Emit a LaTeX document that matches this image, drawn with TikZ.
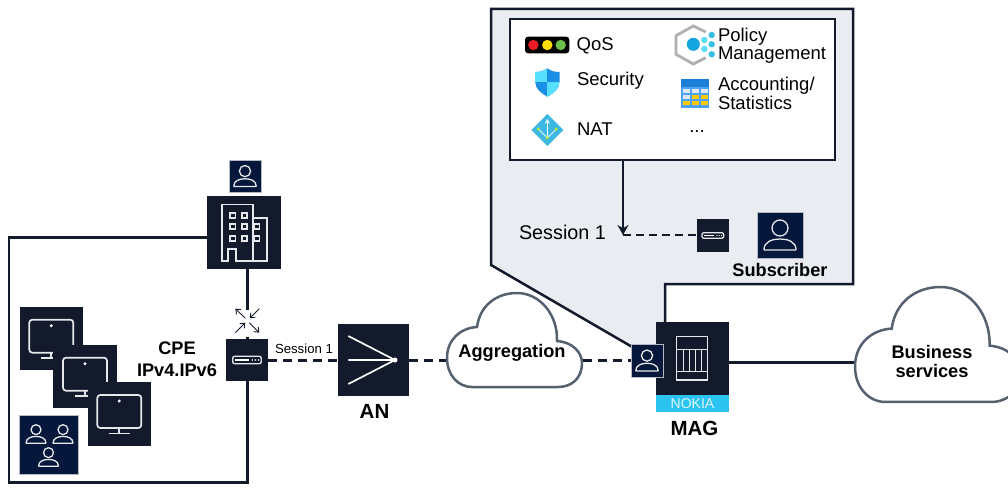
\documentclass[tikz,border=0pt]{standalone}
\usepackage{fontspec}
\setmainfont{Liberation Sans}
\usetikzlibrary{arrows.meta}
\definecolor{inkdark}{HTML}{131A2B}
\definecolor{navy}{HTML}{05173A}
\definecolor{panelfill}{HTML}{E9EDF2}
\definecolor{cloudline}{HTML}{56616F}
\definecolor{nokiacyan}{HTML}{2DC3F0}
\tikzset{
  x=1pt,y=-1pt,
  hx/.code={\definecolor{tmpc}{HTML}{#1}\pgfkeysalso{/tikz/color=tmpc}},
  darkbox/.style={fill=inkdark,draw=none,inner sep=0,outer sep=0,minimum width=#1,minimum height=#1},
  navybox/.style={fill=navy,draw=white!70!navy,line width=.5pt,inner sep=0,outer sep=0,minimum width=#1,minimum height=#1},
  wire/.style={draw=inkdark,line width=2.5pt},
  dashwire/.style={draw=inkdark,line width=3pt,dash pattern=on 9pt off 6pt},
  thindash/.style={draw=inkdark,line width=1.2pt,dash pattern=on 8pt off 5pt},
  icon/.style={draw=white!90!navy,line width=1.3pt},
  reg/.style={inner sep=0,outer sep=0,font=\fontsize{18.5}{18.5}\selectfont,align=left},
  bold/.style={inner sep=0,outer sep=0,font=\fontsize{18.2}{22}\selectfont\bfseries,align=center},
  boldbig/.style={inner sep=0,outer sep=0,font=\fontsize{20.5}{22}\selectfont\bfseries,align=center},
  personicon/.pic={
    \draw[icon] (0,-7) circle[radius=8];
    \draw[icon,rounded corners=0.5pt] (-16,15) .. controls (-16,7) and (-8,4) .. (0,4) .. controls (8,4) and (16,7) .. (16,15) -- cycle;
  },
  monitoricon/.pic={
    \draw[icon,line width=1.7pt,rounded corners=3pt] (-22,-19) rectangle (22,14);
    \draw[icon,line width=1.7pt] (0,14) -- (0,19) (-10.5,19.5) -- (10.5,19.5);
    \fill[white] (0,-13) circle[radius=1.6];
  },
  routericon/.pic={
    \draw[icon,rounded corners=2pt] (-14.3,-3.7) rectangle (14.3,3.7);
    \draw[white,line width=1.4pt] (-12,0) -- (2,0);
    \fill[white] (5.5,0) circle[radius=.8] (8.5,0) circle[radius=.8] (11.5,0) circle[radius=.8];
  },
  cloudpic/.pic={
    \draw[draw=cloudline,line width=2.5pt,fill=white]
      (30,34) .. controls (33,12) and (50,0) .. (70,0)
      .. controls (93,0) and (111,22) .. (110,48)
      .. controls (125,49) and (135,59) .. (135,70)
      .. controls (135,85) and (125,94) .. (111,94)
      -- (25,94)
      .. controls (11,94) and (0,82) .. (0,65)
      .. controls (0,47) and (13,35) .. (30,34) -- cycle;
  },
}
\begin{document}
\begin{tikzpicture}[x=1pt,y=-1pt]
\useasboundingbox (0,0) rectangle (1008,489);

% subscriber context panel
\draw[wire,fill=panelfill,line join=miter] (491,9) -- (853,9) -- (853,284) -- (665,284) -- (665,366) -- (491,265) -- cycle;
\node[fill=white,draw=inkdark,line width=2.5pt,inner sep=0,outer sep=0,minimum width=325pt,minimum height=141pt] (pol) at (672.5,89.5) {};

% QoS icon
\fill[black,rounded corners=3pt] (525,36.7) rectangle (569.3,53.3);
\fill[hx=ED1C24] (533.3,45) circle[radius=5.2];
\fill[hx=FFDD00] (547.3,45) circle[radius=5.2];
\fill[hx=6CC04A] (560.7,45) circle[radius=5.2];
\node[reg,anchor=west] (tqos) at (576.7,45.8) {QoS};

% Security icon
\begin{scope}
\path[clip] (547.3,68.3) .. controls (552,71.5) and (555,72) .. (559.5,72) -- (559.5,82) .. controls (559.5,89) and (553,93.5) .. (547.3,96.7) .. controls (541.6,93.5) and (535.2,89) .. (535.2,82) -- (535.2,72) .. controls (539.5,72) and (542.6,71.5) .. (547.3,68.3) -- cycle;
\fill[hx=1B8FE6] (530,65) rectangle (565,100);
\fill[hx=57DFFF] (530,65) rectangle (547.3,82.3);
\fill[hx=57DFFF] (547.3,82.3) rectangle (565,100);
\end{scope}
\node[reg,anchor=west] (tsec) at (577,80.8) {Security};

% NAT icon
\fill[hx=3CB8E2] (547.3,114) -- (563.3,130) -- (547.3,146) -- (531.3,130) -- cycle;
\draw[white,line width=1.1pt,-{Stealth[length=4.5pt,width=5pt]}] (547.3,138) -- (547.3,119);
\draw[white!75!nokiacyan,line width=1.1pt] (538.3,129) -- (547.3,138) -- (556.3,129);
\fill[hx=B5E61D] (538.3,129) circle[radius=1.6] (556.3,129) circle[radius=1.6] (547.3,138) circle[radius=1.6];
\node[reg,anchor=west] (tnat) at (577,129) {NAT};

% Policy icon
\draw[hx=B0B0B0,line width=2.8pt] (705.7,32) -- (693.3,26) -- (676,35.7) -- (676,54.3) -- (693.3,64) -- (705.7,57.7);
\fill[hx=12A5DF] (693.3,44.3) circle[radius=6.5];
\fill[hx=5CDDF8] (704.3,40) circle[radius=3.2] (704.3,49) circle[radius=3.2];
\fill[hx=36BFE2] (711.7,35) circle[radius=3.2] (711.7,44.3) circle[radius=3.2] (711.7,54.3) circle[radius=3.2];
\node[reg,anchor=west,font=\fontsize{18.5}{18.3}\selectfont] (tpol) at (718,45.8) {Policy\\Management};

% Accounting icon
\fill[hx=4FA3F2] (680.7,79) rectangle (709.3,108.3);
\fill[hx=1E7FD8] (680.7,79) rectangle (709.3,87.5);
\foreach \cx/\rw/\cc in {682.7/89/DCE9FB,691.7/89/DCE9FB,700.7/89/DCE9FB,682.7/95/DCE9FB,691.7/95/FFC800,700.7/95/FFC800,682.7/101/FFC800,691.7/101/FFC800,700.7/101/FFC800}{
  \fill[hx=\cc] (\cx,\rw) rectangle ++(7,4.5);
}
\node[reg,anchor=west,font=\fontsize{18.5}{19}\selectfont] (tacc) at (718,93) {Accounting/\\Statistics};
\node[reg,anchor=center] (tmore) at (697,132) {...};

% session inside panel
\coordinate (sj) at (623,235);
\coordinate (polout) at (623,160);
\node[darkbox=32.5pt] (rt2) at (712.8,235.5) {};
\pic[scale=.76] at (rt2) {routericon};
\draw[wire,-{Stealth[length=10pt,width=11pt]}] (polout) -- (sj);
\draw[thindash] (sj) -- (rt2.west |- sj);
\node[inner sep=0,outer sep=0,font=\fontsize{19.8}{20}\selectfont,anchor=west] (tses) at (519,232) {Session 1};
\node[navybox=46pt] (sub) at (780,235) {};
\pic at (sub) {personicon};
\node[bold,anchor=center] (tsub) at (780,270) {Subscriber};

% CPE side enclosure
\node[darkbox=73.4pt] (bld) at (244,232.7) {};
\coordinate (encA) at (9,237.3);
\coordinate (encB) at (9,482.3);
\coordinate (encC) at (247.3,482.3);
\node[darkbox=42.3pt] (cpe) at (247,360) {};
\draw[wire,line join=miter] (bld.west |- encA) -- (encA) -- (encB) -- (encC) -- (encC |- cpe.south);
\coordinate (upA) at (247.3,309.5);
\coordinate (upB) at (247.3,336.5);
\draw[wire] (upA |- bld.south) -- (upA);
\draw[wire] (upB) -- (upB |- cpe.north);
\pic at (cpe) {routericon};

% building icon
\begin{scope}[shift={(bld)}]
\draw[icon,line width=1.7pt] (9.3,-15) -- (22.7,-15) -- (22.7,28.3) -- (-8.3,28.3) -- (-8.3,16.3) -- (-15.7,16.3) -- (-15.7,28.3) -- (-22.3,28.3) -- (-22.3,-28.3) -- (9.3,-28.3) -- (9.3,28.3);
\foreach \wx/\wy in {-14/-20,-2.3/-20,-14/-8.7,-2.3/-8.7,10/-8.7,-14/3.3,-2.3/3.3,10/3.3}{
  \draw[icon,line width=1.6pt] (\wx,\wy) rectangle ++(5.5,5);
}
\end{scope}
\node[navybox=32pt] (pbld) at (245,176) {};
\pic[scale=.7] at (pbld) {personicon};

% split arrows
\begin{scope}[shift={(247.3,320.7)},line width=.9pt,-{Straight Barb[length=4pt,width=6.5pt]},draw=inkdark]
\draw (-2,-2.5) -- (-12,-12);
\draw (12,-12) -- (2.5,-2.5);
\draw (-12,12) -- (-2,2);
\draw (2,2) -- (12,12);
\end{scope}

% monitors
\node[darkbox=63.3pt] (m1) at (51.3,338.7) {};
\pic at (m1) {monitoricon};
\node[darkbox=63.3pt] (m2) at (85,376.7) {};
\pic at (m2) {monitoricon};
\node[darkbox=63.3pt] (m3) at (119.3,414) {};
\pic at (m3) {monitoricon};
\node[navybox=59pt] (grp) at (48.7,444.5) {};
\pic[scale=.62] at (36,434) {personicon};
\pic[scale=.62] at (63,434) {personicon};
\pic[scale=.62] at (48.5,457) {personicon};

\node[bold] (tcpe) at (177,359) {CPE\\IPv4.IPv6};
\node[inner sep=0,outer sep=0,font=\fontsize{13.2}{14}\selectfont,anchor=west] (tses2) at (275,349) {Session 1};

% access chain
\node[darkbox=71.4pt] (an) at (373.3,360) {};
\begin{scope}[shift={(an)}]
\draw[white,line width=1.7pt] (-25,-24) -- (21.7,0) -- (-25,24) (-25,0) -- (21.7,0);
\fill[white] (21.7,0) circle[radius=2.5];
\end{scope}
\node[boldbig] (tan) at (374.5,411) {AN};

\coordinate (agL) at (447,360);
\coordinate (agR) at (583,360);
\coordinate (pl) at (631,360);
\draw[dashwire] (cpe.east) -- (an.west);
\draw[dashwire] (an.east) -- (agL);
\draw[dashwire] (agR) -- (pl);
\pic at (447,293) {cloudpic};
\node[bold] (tag) at (512,352.5) {Aggregation};

% MAG
\node[darkbox=73pt] (mag) at (692.5,358.7) {};
\begin{scope}[icon,line width=1.4pt]
\draw (676.7,336.7) rectangle (707.7,380);
\draw (676.7,349.3) -- (707.7,349.3) (676.7,371.7) -- (707.7,371.7);
\draw (683.3,349.3) -- (683.3,371.7) (689.3,349.3) -- (689.3,371.7) (695.3,349.3) -- (695.3,371.7) (701.7,349.3) -- (701.7,371.7);
\end{scope}
\node[fill=nokiacyan,inner sep=0,outer sep=0,minimum width=73pt,minimum height=17pt,text=white!85!nokiacyan,font=\fontsize{14}{14}\selectfont] (nok) at (692.5,403.5) {NOKIA};
\node[boldbig] (tmag) at (694.5,428) {MAG};
\node[navybox=32.5pt] (pmag) at (647,360.5) {};
\pic[scale=.7] at (pmag) {personicon};

% business
\coordinate (bizL) at (857,362.3);
\draw[wire] (bizL -| mag.east) -- (bizL);
\begin{scope}
\clip (840,270) rectangle (1008,420);
\pic[scale=1.223] at (855,287) {cloudpic};
\end{scope}
\node[bold,font=\fontsize{18.2}{19}\selectfont\bfseries] (tbiz) at (932,361) {Business\\services};
\end{tikzpicture}
\end{document}
